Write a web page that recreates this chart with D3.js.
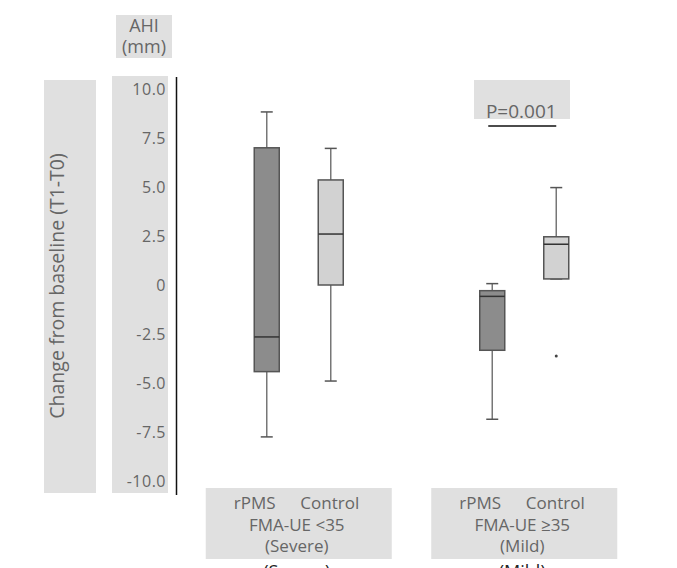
<!DOCTYPE html>
<html>
<head>
<meta charset="utf-8">
<script src="https://cdn.jsdelivr.net/npm/d3@7"></script>
<style>
  body { margin: 0; background: #fff; }
  text { font-family: "Open Sans", sans-serif; }
</style>
</head>
<body>
<div id="chart"></div>
<script>
// data
var groups = ["Severe", "Mild"];
var groupLines = [["FMA-UE <35", "(Severe)"], ["FMA-UE \u226535", "(Mild)"]];
var arms = ["rPMS", "Control"];
var yTicks = [10, 7.5, 5, 2.5, 0, -2.5, -5, -7.5, -10];
// [min, q1, median, q3, max]
var severeStats = [[-7.75, -4.42, -2.65, 7.0, 8.83], [-4.9, 0.0, 2.6, 5.36, 6.97]];
var mildStats = [[-6.85, -3.33, -0.58, -0.29, 0.07], [0.31, 0.31, 2.08, 2.46, 4.97]];
var outliers = [{group: "Mild", arm: "Control", value: -3.62}];
var pLabel = "P=0.001";

var W = 677, H = 568;
var svg = d3.select("#chart").append("svg").attr("width", W).attr("height", H);

var y = d3.scaleLinear().domain([-10, 10]).range([481, 89]);
var xGroup = d3.scaleBand().domain(groups).range([186, 637]);
var xArm = d3.scalePoint().domain(arms).range([-32, 32]);
var cx = function(g, a) { return xGroup(g) + xGroup.bandwidth() / 2 + xArm(a); };

var boxes = [];
[severeStats, mildStats].forEach(function(s, gi) {
    s.forEach(function(v, ai) {
        boxes.push({group: groups[gi], arm: arms[ai], min: v[0], q1: v[1], med: v[2], q3: v[3], max: v[4]});
    });
});

var shade = {"rPMS": "#8c8c8c", "Control": "#d2d2d2"};
var grey = "#e0e0e0", txt = "#666";

// grey label panels
svg.append("rect").attr("x", 44).attr("y", 80).attr("width", 52).attr("height", 413).attr("fill", grey);
svg.append("rect").attr("x", 112).attr("y", 76).attr("width", 56).attr("height", 417).attr("fill", grey);
svg.append("rect").attr("x", 116).attr("y", 15).attr("width", 56).attr("height", 43).attr("fill", grey);

svg.append("text").attr("transform", "translate(64,286) rotate(-90)")
    .attr("text-anchor", "middle").attr("font-size", 19.5).attr("fill", txt)
    .text("Change from baseline (T1-T0)");

svg.append("text").attr("x", 144).attr("y", 32).attr("text-anchor", "middle")
    .attr("font-size", 18).attr("fill", txt).text("AHI");
svg.append("text").attr("x", 144).attr("y", 53).attr("text-anchor", "middle")
    .attr("font-size", 18).attr("fill", txt).text("(mm)");

// y axis
var yAxis = d3.axisLeft(y).tickValues(yTicks).tickSize(0).tickPadding(10)
    .tickFormat(function(d) { return d === 0 ? "0" : d.toFixed(1); });
var ax = svg.append("g").attr("transform", "translate(176,0)").call(yAxis);
ax.select(".domain").remove();
ax.selectAll("text").attr("font-size", 16).attr("letter-spacing", 0.5)
    .attr("fill", txt).attr("font-family", "Open Sans, sans-serif");
svg.append("line").attr("x1", 176.5).attr("x2", 176.5).attr("y1", 77).attr("y2", 495)
    .attr("stroke", "#111").attr("stroke-width", 1.5);

// bottom label panels
groups.forEach(function(g, i) {
    var c = xGroup(g) + xGroup.bandwidth() / 2;
    var gx = svg.append("g");
    gx.append("rect").attr("x", c - 93).attr("y", 488).attr("width", 186).attr("height", 71).attr("fill", grey);
    arms.forEach(function(a) {
        gx.append("text").attr("x", cx(g, a) - (a === "rPMS" ? 12 : 1)).attr("y", 509)
            .attr("text-anchor", "middle").attr("font-size", 17).attr("fill", txt).text(a);
    });
    groupLines[i].forEach(function(t, k) {
        gx.append("text").attr("x", c - 2).attr("y", 531 + k * 21)
            .attr("text-anchor", "middle").attr("font-size", 17).attr("fill", txt).text(t);
    });
    // duplicate line that peeks in at the bottom edge, as in the source
    gx.append("text").attr("x", c - 2).attr("y", 578)
        .attr("text-anchor", "middle").attr("font-size", 18).attr("fill", "#222").text(groupLines[i][1]);
});

// boxes and whiskers
var bw = 25;
var bg = svg.selectAll("g.box").data(boxes).enter().append("g").attr("class", "box");
bg.append("line")
    .attr("x1", function(d) { return cx(d.group, d.arm); })
    .attr("x2", function(d) { return cx(d.group, d.arm); })
    .attr("y1", function(d) { return y(d.max); })
    .attr("y2", function(d) { return y(d.min); })
    .attr("stroke", "#777").attr("stroke-width", 1.5);
["min", "max"].forEach(function(k) {
    bg.append("line")
        .attr("x1", function(d) { return cx(d.group, d.arm) - 6; })
        .attr("x2", function(d) { return cx(d.group, d.arm) + 6; })
        .attr("y1", function(d) { return y(d[k]); })
        .attr("y2", function(d) { return y(d[k]); })
        .attr("stroke", "#555").attr("stroke-width", 1.5);
});
bg.append("rect")
    .attr("x", function(d) { return cx(d.group, d.arm) - bw / 2; })
    .attr("y", function(d) { return y(d.q3); })
    .attr("width", bw)
    .attr("height", function(d) { return y(d.q1) - y(d.q3); })
    .attr("fill", function(d) { return shade[d.arm]; })
    .attr("stroke", "#555").attr("stroke-width", 1.5);
bg.append("line")
    .attr("x1", function(d) { return cx(d.group, d.arm) - bw / 2; })
    .attr("x2", function(d) { return cx(d.group, d.arm) + bw / 2; })
    .attr("y1", function(d) { return y(d.med); })
    .attr("y2", function(d) { return y(d.med); })
    .attr("stroke", "#333").attr("stroke-width", 1.5);

svg.selectAll("circle.out").data(outliers).enter().append("circle")
    .attr("class", "out")
    .attr("cx", function(d) { return cx(d.group, d.arm); })
    .attr("cy", function(d) { return y(d.value); })
    .attr("r", 1.5).attr("fill", "#444");

// significance
var mc = xGroup("Mild") + xGroup.bandwidth() / 2;
svg.append("rect").attr("x", 474).attr("y", 80).attr("width", 96).attr("height", 39).attr("fill", grey);
svg.append("text").attr("x", mc - 3).attr("y", 118).attr("text-anchor", "middle")
    .attr("font-size", 19).attr("fill", txt).text(pLabel);
svg.append("line").attr("x1", cx("Mild", "rPMS") - 4).attr("x2", cx("Mild", "Control"))
    .attr("y1", 126).attr("y2", 126).attr("stroke", "#111").attr("stroke-width", 1.5);
</script>
</body>
</html>
